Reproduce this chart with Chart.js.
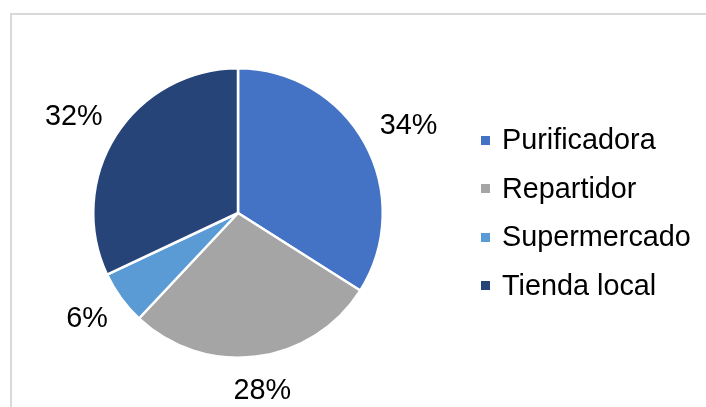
<!DOCTYPE html>
<html>
<head>
<meta charset="utf-8">
<script src="https://cdn.jsdelivr.net/npm/chart.js@4/dist/chart.umd.min.js"></script>
<style>
  html, body { margin: 0; padding: 0; background: #ffffff; }
  #wrap { width: 706px; height: 407px; position: relative; }
</style>
</head>
<body>
<div id="wrap"><canvas id="c" width="706" height="407"></canvas></div>
<script>
// Where people buy their drinking water (share of respondents, %)
const categories = ['Purificadora', 'Repartidor', 'Supermercado', 'Tienda local'];
const shares = [34, 28, 6, 32];
const sliceColors = ['#4472C4', '#A5A5A5', '#5B9BD5', '#264478'];

const FONT = '28.8px "Liberation Sans", Arial, sans-serif';
const TEXT_COLOR = '#000000';

// Light frame along the top and left of the drawing surface
const framePlugin = {
  id: 'frame',
  beforeDraw(chart) {
    const ctx = chart.ctx;
    ctx.save();
    ctx.fillStyle = '#ffffff';
    ctx.fillRect(0, 0, chart.width, chart.height);
    ctx.fillStyle = '#d9d9d9';
    ctx.fillRect(10, 13, 2, chart.height - 13);
    ctx.fillRect(10, 13, chart.width - 10, 2);
    ctx.restore();
  }
};

// Percentage labels just outside each slice
const outsideLabels = {
  id: 'outsideLabels',
  afterDatasetsDraw(chart) {
    const ctx = chart.ctx;
    const meta = chart.getDatasetMeta(0);
    const total = shares.reduce((a, b) => a + b, 0);
    ctx.save();
    ctx.font = FONT;
    ctx.fillStyle = TEXT_COLOR;
    ctx.textAlign = 'center';
    ctx.textBaseline = 'middle';
    meta.data.forEach((arc, i) => {
      const p = arc.getProps(['x', 'y', 'startAngle', 'endAngle', 'outerRadius'], true);
      const mid = (p.startAngle + p.endAngle) / 2;
      const ux = Math.cos(mid), uy = Math.sin(mid);
      const text = Math.round(shares[i] / total * 100) + '%';
      const w = ctx.measureText(text).width;
      const h = 28;
      const d = p.outerRadius + 21;
      const cx = p.x + ux * d + ux * w / 2;
      const cy = p.y + uy * d + uy * h / 2;
      ctx.fillText(text, cx, cy);
    });
    ctx.restore();
  }
};

// Legend on the right, square markers
const sideLegend = {
  id: 'sideLegend',
  afterDraw(chart) {
    const ctx = chart.ctx;
    const meta = chart.getDatasetMeta(0);
    const cy0 = meta.data[0].y;
    const step = 48.5;
    const mx = 481, tx = 502, size = 9;
    ctx.save();
    ctx.font = FONT;
    ctx.textAlign = 'left';
    ctx.textBaseline = 'middle';
    categories.forEach((name, i) => {
      const y = cy0 + (i - (categories.length - 1) / 2) * step;
      ctx.fillStyle = sliceColors[i];
      ctx.fillRect(mx, Math.round(y - size / 2), size, size);
      ctx.fillStyle = TEXT_COLOR;
      ctx.fillText(name, tx, y + 1);
    });
    ctx.restore();
  }
};

new Chart(document.getElementById('c'), {
  type: 'pie',
  data: {
    labels: categories,
    datasets: [{
      data: shares,
      backgroundColor: sliceColors,
      borderColor: '#ffffff',
      borderWidth: 2.5
    }]
  },
  options: {
    responsive: false,
    animation: false,
    layout: { padding: { left: 92, top: 67, right: 322, bottom: 48 } },
    plugins: {
      legend: { display: false },
      tooltip: { enabled: false }
    }
  },
  plugins: [framePlugin, outsideLabels, sideLegend]
});
</script>
</body>
</html>
